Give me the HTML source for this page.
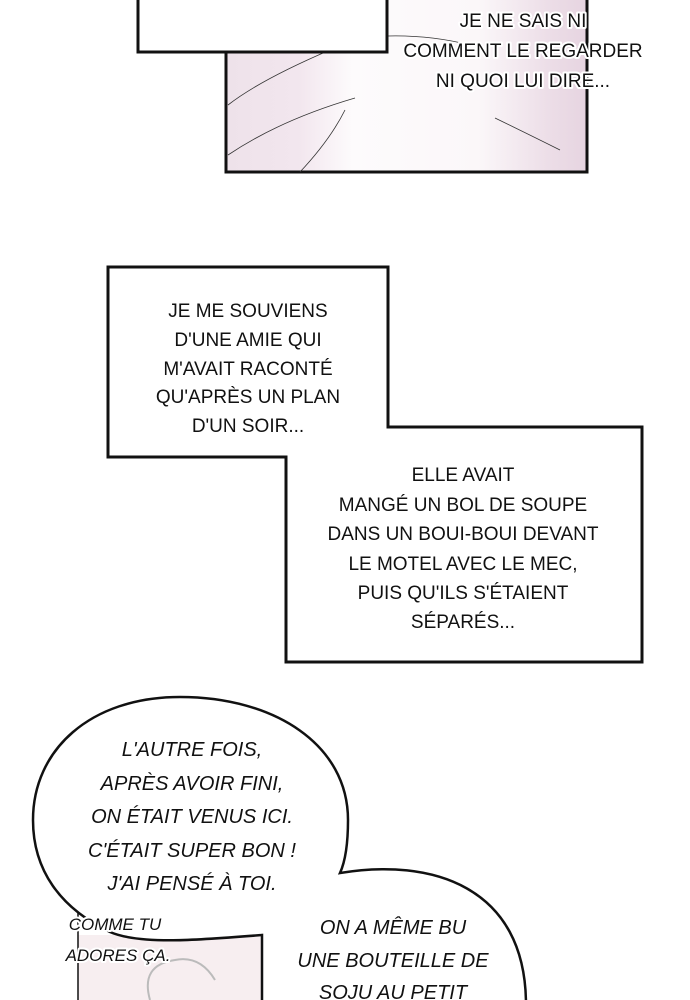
<!DOCTYPE html>
<html><head><meta charset="utf-8"><style>
html,body{margin:0;padding:0;background:#fff;}
svg{display:block}
.n{font-family:"Liberation Sans",sans-serif;font-size:19px;fill:#111;text-anchor:middle}
.c{font-family:"Liberation Sans",sans-serif;font-size:20px;fill:#111;text-anchor:middle;font-style:italic}
.h{stroke:#fff;stroke-width:4;paint-order:stroke;stroke-linejoin:round}
</style></head><body>
<svg width="690" height="1000" viewBox="0 0 690 1000" xmlns="http://www.w3.org/2000/svg">
<defs>
<linearGradient id="pk" x1="0" x2="1" y1="0" y2="0">
<stop offset="0" stop-color="#eee2ea"/><stop offset="0.2" stop-color="#f2e6ee"/><stop offset="0.35" stop-color="#fdfbfc"/><stop offset="0.7" stop-color="#fbf7f9"/><stop offset="0.9" stop-color="#ecdde7"/><stop offset="1" stop-color="#e6d4e0"/>
</linearGradient>
</defs>
<rect x="226" y="-5" width="361" height="177" fill="url(#pk)" stroke="#111" stroke-width="3"/>
<g stroke="#333" stroke-width="0.8" fill="none">
<path d="M228 105 Q260 80 330 50"/><path d="M228 155 Q280 120 355 98"/><path d="M300 172 Q330 140 345 110"/><path d="M495 118 Q530 135 560 150"/><path d="M388 36 Q430 35 470 45"/>
</g>
<rect x="138" y="-5" width="249" height="57" fill="#fff" stroke="#111" stroke-width="3"/>
<g class="n h"><text x="523" y="27">JE NE SAIS NI</text><text x="523" y="57">COMMENT LE REGARDER</text><text x="523" y="87">NI QUOI LUI DIRE...</text></g>
<path d="M108 267 H388 V427 H642 V662 H286 V457 H108 Z" fill="#fff" stroke="#111" stroke-width="3"/>
<g class="n">
<text x="248" y="317">JE ME SOUVIENS</text><text x="248" y="346">D'UNE AMIE QUI</text><text x="248" y="375">M'AVAIT RACONTÉ</text><text x="248" y="403">QU'APRÈS UN PLAN</text><text x="248" y="432">D'UN SOIR...</text>
<text x="463" y="481">ELLE AVAIT</text><text x="463" y="511">MANGÉ UN BOL DE SOUPE</text><text x="463" y="540">DANS UN BOUI-BOUI DEVANT</text><text x="463" y="570">LE MOTEL AVEC LE MEC,</text><text x="463" y="599">PUIS QU'ILS S'ÉTAIENT</text><text x="463" y="628">SÉPARÉS...</text>
</g>
<rect x="78" y="935" width="184" height="70" fill="#f7eef0"/>
<path d="M78 895 V1000" stroke="#111" stroke-width="1.5"/>
<path d="M150 1000 Q140 965 175 960 Q200 955 215 980" stroke="#bbb" stroke-width="2" fill="none"/>
<path d="M262 1005 L262 935 C200 940 140 945 110 932 C60 908 33 870 33 820 C33 750 90 697 180 697 C275 697 348 745 348 820 C348 845 345 862 340 873 C430 858 526 885 526 1005 Z" fill="#fff" stroke="#111" stroke-width="2.5"/>
<g class="c">
<text x="192" y="756">L'AUTRE FOIS,</text><text x="192" y="790">APRÈS AVOIR FINI,</text><text x="192" y="823">ON ÉTAIT VENUS ICI.</text><text x="192" y="857">C'ÉTAIT SUPER BON !</text><text x="192" y="890">J'AI PENSÉ À TOI.</text>
<text x="393" y="934">ON A MÊME BU</text><text x="393" y="967">UNE BOUTEILLE DE</text><text x="393" y="999">SOJU AU PETIT</text>
</g>
<g class="c h" style="font-size:17px"><text x="115" y="930">COMME TU</text><text x="118" y="961">ADORES ÇA.</text></g>
</svg>
</body></html>
